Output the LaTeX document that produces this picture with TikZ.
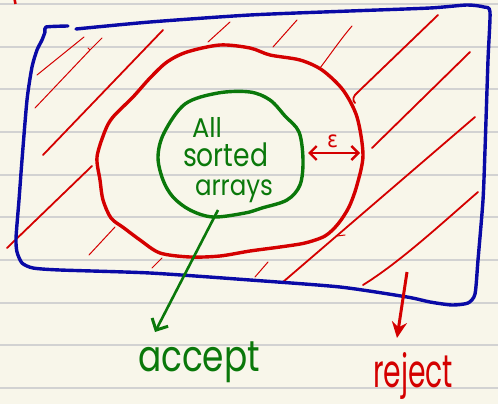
\documentclass[tikz,border=0pt]{standalone}
\usepackage{fontspec}
\setmainfont{Poppins}
\newfontfamily\dejavu{DejaVu Sans}
\usepackage{graphicx}
\usetikzlibrary{arrows.meta}
\definecolor{paper}{HTML}{F8F6EA}
\definecolor{rule}{HTML}{D2D2D2}
\definecolor{inkblue}{HTML}{0A0AA6}
\definecolor{inkred}{HTML}{D40000}
\definecolor{inkgreen}{HTML}{0A780A}
\newcommand\hw[3]{\resizebox*{#1}{#2}{#3}}
\tikzset{
  ruleline/.style={rule, line width=2pt},
  bluepen/.style={inkblue, line width=3.4pt, line cap=round, line join=round},
  redpen/.style={inkred, line width=3.4pt, line cap=round, line join=round},
  greenpen/.style={inkgreen, line width=3.4pt, line cap=round, line join=round},
  hatchthin/.style={inkred, line width=1pt, line cap=round},
  hatchthick/.style={inkred, line width=1.8pt, line cap=round},
  label/.style={inner sep=0pt, outer sep=0pt, anchor=north west},
  barb/.style={-{Straight Barb[length=9pt,width=18pt,line width=3pt]}},
}
\begin{document}
\begin{tikzpicture}[x=1pt, y=-1pt]
\fill[paper] (0,0) rectangle (498,404);
\useasboundingbox (0,0) rectangle (498,404);
% ruled paper
\foreach \yy in {4,46.7,89.4,132,174.7,217.4,260,302.7,345.4,388}
  \draw[ruleline] (0,\yy) -- (498,\yy);
% stray mark at the top
\draw[inkred, line width=2.5pt] (14.5,-1) -- (15.5,4);
% hatching
\draw[hatchthin] (37,75) -- (84,37);
\draw[hatchthin] (35,108) -- (90,50) -- (88,48) (90,50) -- (102,38);
\draw[hatchthick] (43,155) -- (163,30);
\draw[hatchthin] (208,42) -- (230,22);
\draw[hatchthick] (7,248) -- (92,166);
\draw[hatchthin] (89,255) -- (115,227);
\draw[hatchthin] (152,268) -- (162,258);
\draw[hatchthin] (273,47) -- (297,20);
\draw[hatchthin] (320,68) .. controls (330,55) and (340,40) .. (352,26);
\draw[hatchthick] (355,103) .. controls (352,100) and (353,96) .. (358,92) -- (438,15);
\draw[hatchthick] (372,148) -- (470,52);
\draw[hatchthick] (283,282) -- (475,117);
\draw[hatchthin] (337,236) -- (345,235);
\draw[hatchthick] (363,285) .. controls (400,262) and (440,225) .. (478,192);
\draw[hatchthin] (255,277) -- (268,262);
% blue frame
\draw[bluepen] plot[smooth, tension=0.4] coordinates {
  (76,29) (150,22) (250,15) (350,11) (430,8) (467,5) (484,7) (490,12)
  (488,60) (485,150) (483,200) (478,260) (475,294) (468,303) (452,305)
  (430,302) (407,297) (340,287) (250,280) (150,273) (60,270) (33,268)
  (22,263) (17,252) (16,238) (19,200) (22,160) (27,100) (32,67) (37,50)
  (42,40) (45,32) (46,27) (68,26)};
% red region
\draw[redpen] plot[smooth cycle, tension=0.5] coordinates {
  (250,48) (270,55) (300,60) (322,70) (343,90) (357,117) (363,155)
  (357,185) (349,207) (338,224) (325,236) (305,243) (280,247) (250,251)
  (220,256) (190,257) (160,253) (140,240) (124,228) (111,218) (103,200)
  (100,180) (97,157) (105,131) (113,117) (133,97) (150,78) (167,62)
  (187,52) (220,45)};
% green region
\draw[greenpen] plot[smooth cycle, tension=0.55] coordinates {
  (250,92) (270,100) (285,116) (299,132) (303,160) (300,185) (287,200)
  (262,208) (245,213) (213,217) (190,210) (173,197) (163,180) (158,157)
  (164,133) (185,104) (218,93)};
% text inside green
\node[label, text=inkgreen] (tall) at (192,117) {\hw{30pt}{20pt}{All}};
\node[label, text=inkgreen] (tsorted) at (183,143) {\hw{85pt}{24pt}{sorted}};
\node[label, text=inkgreen] (tarrays) at (195,180) {\hw{78pt}{23pt}{arrays}};
% epsilon
\coordinate (epsl) at (308,153);
\coordinate (epsr) at (360,153);
\draw[inkred, line width=2.6pt, {Straight Barb[length=7pt,width=14pt,line width=2.4pt]}-{Straight Barb[length=7pt,width=14pt,line width=2.4pt]}] (epsl) -- (epsr);
\node[label, text=inkred] (teps) at (327,135) {\hw{11pt}{13pt}{\dejavu ε}};
% outputs
\node[label, text=inkgreen] (taccept) at (138,342) {\hw{122pt}{41pt}{accept}};
\node[label, text=inkred] (treject) at (373,352) {\hw{80pt}{47pt}{reject}};
\coordinate (gstart) at (218,210);
\coordinate (gend) at (155,332);
\draw[inkgreen, line width=2.6pt, barb] (gstart) -- (gend);
\coordinate (rstart) at (407,272);
\coordinate (rend) at (397,338);
\draw[inkred, line width=3pt, -{Stealth[length=16pt,width=15pt]}] (rstart) -- (rend);
\end{tikzpicture}
\end{document}
